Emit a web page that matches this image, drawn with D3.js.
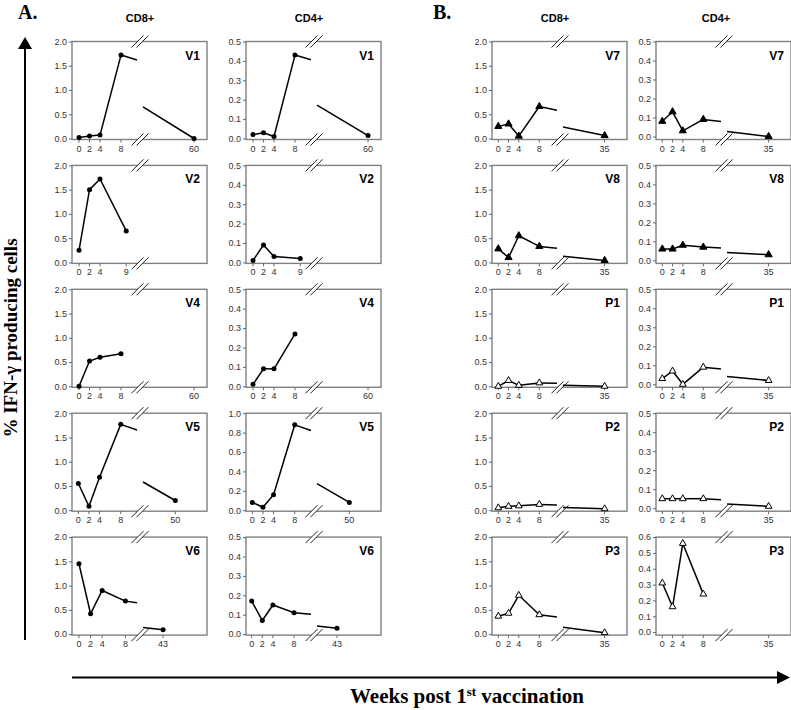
<!DOCTYPE html>
<html>
<head>
<meta charset="utf-8">
<script src="https://cdn.jsdelivr.net/npm/d3@7"></script>
<style>
body { margin: 0; background: #fff; }
text { font-family: Arial, "Liberation Sans", sans-serif; }
</style>
</head>
<body>
<svg id="fig" width="791" height="710"></svg>
<script>
// ---- data ----
const namesA = ["V1", "V2", "V4", "V5", "V6"];
const namesB = ["V7", "V8", "P1", "P2", "P3"];

// weeks sampled per donor (panel A)
const weeksA = [[0, 2, 4, 8, 60], [0, 2, 4, 9], [0, 2, 4, 8], [0, 2, 4, 8, 50], [0, 2, 4, 8, 43]];
const xTicksA = [[0, 2, 4, 8, 60], [0, 2, 4, 9], [0, 2, 4, 8, 60], [0, 2, 4, 8, 50], [0, 2, 4, 8, 43]];
const cd8A = [
  [0.02, 0.05, 0.07, 1.72, 0.0],
  [0.25, 1.50, 1.72, 0.65],
  [0.0, 0.52, 0.60, 0.67],
  [0.55, 0.08, 0.68, 1.77, 0.20],
  [1.45, 0.42, 0.90, 0.68, 0.09]
];
const cd4A = [
  [0.02, 0.03, 0.01, 0.43, 0.015],
  [0.01, 0.09, 0.03, 0.02],
  [0.01, 0.09, 0.09, 0.27],
  [0.08, 0.03, 0.16, 0.88, 0.08],
  [0.17, 0.07, 0.15, 0.11, 0.03]
];
const cd4AMax = [0.5, 0.5, 0.5, 1.0, 0.5];

// panel B
const weeksB = [[0, 2, 4, 8, 35], [0, 2, 4, 8, 35], [0, 2, 4, 8, 35], [0, 2, 4, 8, 35], [0, 2, 4, 8, 35]];
const weeksB4 = [[0, 2, 4, 8, 35], [0, 2, 4, 8, 35], [0, 2, 4, 8, 35], [0, 2, 4, 8, 35], [0, 2, 4, 8]];
const xTicksB = [0, 2, 4, 8, 35];
const cd8B = [
  [0.25, 0.30, 0.05, 0.66, 0.06],
  [0.28, 0.10, 0.55, 0.33, 0.04],
  [0.0, 0.12, 0.02, 0.07, 0.0],
  [0.05, 0.08, 0.09, 0.12, 0.03],
  [0.37, 0.43, 0.80, 0.40, 0.03]
];
const cd4B = [
  [0.08, 0.13, 0.03, 0.09, 0.0],
  [0.06, 0.06, 0.08, 0.07, 0.03],
  [0.03, 0.07, 0.0, 0.09, 0.02],
  [0.05, 0.05, 0.05, 0.05, 0.01],
  [0.31, 0.16, 0.56, 0.24]
];
const cd4BMax = [0.5, 0.5, 0.5, 0.5, 0.6];
const openB = [false, false, true, true, true];

// broken x axis: [left segment domain, right segment domain]
const xDomA8 = [[[-1.34, 11.05], [40.3, 65]], [[-1.34, 11.05], [40.3, 65]], [[-1.34, 11.05], [40.3, 65]],
                [[-1.2, 11.07], [39.8, 60]], [[-1.2, 10.0], [40.3, 48.9]]];
const xDomA4 = [[[-1.34, 11.05], [40.3, 65]], [[-1.34, 11.05], [40.3, 65]], [[-1.34, 11.05], [40.3, 65]],
                [[-1.2, 11.07], [39.8, 60]], [[-1.08, 11.2], [38, 54]]];
const xDomB = [[-1.23, 11.45], [27, 39.3]];

// ---- layout ----
const svg = d3.select("#fig");
const W = 135, H = 98;
const gapL = 65, gapR = 71;
const rowTop = [41.5, 165.4, 289.3, 413.2, 537.1];
const colLeft = [72, 246, 492, 656];

function drawPanel(x0, y0, p) {
  const g = svg.append("g").attr("transform", "translate(" + x0 + "," + y0 + ")");
  const xl = d3.scaleLinear().domain(p.dom[0]).range([0, gapL]);
  const xr = d3.scaleLinear().domain(p.dom[1]).range([gapR, W]);
  const xs = w => w <= p.dom[0][1] ? xl(w) : xr(w);
  const y = d3.scaleLinear().domain([0, p.yMax]).range([H - p.pad, 0]);

  g.append("rect").attr("width", W).attr("height", H)
    .attr("fill", "none").attr("stroke", "#808080").attr("stroke-width", 1.4);

  // y axis
  const yAxis = d3.axisLeft(y)
    .tickValues(d3.range(0, p.yMax + 1e-9, p.yStep))
    .tickFormat(d3.format(".1f")).tickSize(3).tickPadding(2);
  const ya = g.append("g").call(yAxis);
  ya.select(".domain").remove();
  ya.selectAll("line").attr("stroke", "#666");
  ya.selectAll("text").attr("font-size", 9).attr("fill", "#333").style("font-family", "Arial, Liberation Sans, sans-serif");

  // x ticks
  const xt = g.append("g");
  p.ticks.forEach(t => {
    const xx = xs(t);
    xt.append("line").attr("x1", xx).attr("x2", xx).attr("y1", H).attr("y2", H + 3).attr("stroke", "#666");
    xt.append("text").attr("x", xx).attr("y", H + 12).attr("text-anchor", "middle")
      .attr("font-size", 9).attr("fill", "#333").text(t);
  });

  // break marks
  const cx = (gapL + gapR) / 2;
  [0, H].forEach(by => {
    g.append("polygon")
      .attr("points", [[cx - 8.5, by + 6], [cx + 3.5, by - 6], [cx + 8.5, by - 6], [cx - 3.5, by + 6]].join(" "))
      .attr("fill", "#fff");
    [-2.5, 2.5].forEach(dx => {
      g.append("line").attr("x1", cx + dx - 6).attr("y1", by + 6).attr("x2", cx + dx + 6).attr("y2", by - 6)
        .attr("stroke", "#222").attr("stroke-width", 1);
    });
  });

  // line, clipped at the axis break
  const lx = p.dom[0][1], rx = p.dom[1][0];
  const segs = [];
  for (let i = 0; i < p.weeks.length - 1; i++) {
    const w1 = p.weeks[i], w2 = p.weeks[i + 1], v1 = p.vals[i], v2 = p.vals[i + 1];
    const at = w => v1 + (v2 - v1) * (w - w1) / (w2 - w1);
    if (w2 <= lx || w1 >= rx) {
      segs.push([[xs(w1), y(v1)], [xs(w2), y(v2)]]);
    } else {
      segs.push([[xs(w1), y(v1)], [xl(lx), y(at(lx))]]);
      segs.push([[xr(rx), y(at(rx))], [xs(w2), y(v2)]]);
    }
  }
  g.selectAll("line.seg").data(segs).enter().append("line").attr("class", "seg")
    .attr("x1", d => d[0][0]).attr("y1", d => d[0][1])
    .attr("x2", d => d[1][0]).attr("y2", d => d[1][1])
    .attr("stroke", "#000").attr("stroke-width", 1.5);

  // markers
  const pts = p.weeks.map((w, i) => [xs(w), y(p.vals[i])]);
  if (p.shape === "circle") {
    g.selectAll("circle.pt").data(pts).enter().append("circle").attr("class", "pt")
      .attr("cx", d => d[0]).attr("cy", d => d[1]).attr("r", 2.5).attr("fill", "#000");
  } else {
    const sym = d3.symbol().type(d3.symbolTriangle).size(p.open ? 20 : 22);
    g.selectAll("path.pt").data(pts).enter().append("path").attr("class", "pt")
      .attr("d", sym).attr("transform", d => "translate(" + d[0] + "," + d[1] + ")")
      .attr("fill", p.open ? "#fff" : "#000").attr("stroke", "#000").attr("stroke-width", 1);
  }

  g.append("text").attr("x", W - 7).attr("y", 18).attr("text-anchor", "end")
    .attr("font-size", 12).attr("font-weight", "bold").text(p.name);
}

namesA.forEach((n, i) => {
  drawPanel(colLeft[0], rowTop[i], {name: n, weeks: weeksA[i], vals: cd8A[i], ticks: xTicksA[i],
    dom: xDomA8[i], yMax: 2.0, yStep: 0.5, pad: 1, shape: "circle"});
  drawPanel(colLeft[1], rowTop[i], {name: n, weeks: weeksA[i], vals: cd4A[i], ticks: xTicksA[i],
    dom: xDomA4[i], yMax: cd4AMax[i], yStep: cd4AMax[i] > 0.6 ? 0.2 : 0.1, pad: 1, shape: "circle"});
});
namesB.forEach((n, i) => {
  drawPanel(colLeft[2], rowTop[i], {name: n, weeks: weeksB[i], vals: cd8B[i], ticks: xTicksB,
    dom: xDomB, yMax: 2.0, yStep: 0.5, pad: 1, shape: "tri", open: openB[i]});
  drawPanel(colLeft[3], rowTop[i], {name: n, weeks: weeksB4[i], vals: cd4B[i], ticks: xTicksB,
    dom: xDomB, yMax: cd4BMax[i], yStep: 0.1, pad: 3, shape: "tri", open: openB[i]});
});

// column headers and panel letters
const heads = [["CD8+", 140], ["CD4+", 309], ["CD8+", 555], ["CD4+", 716]];
heads.forEach(h => svg.append("text").attr("x", h[1]).attr("y", 21.5).attr("text-anchor", "middle")
  .attr("font-size", 11).attr("font-weight", "bold").text(h[0]));

const serif = "'Liberation Serif', 'Times New Roman', serif";
[["A.", 18], ["B.", 433]].forEach(l => svg.append("text").attr("x", l[1]).attr("y", 18.5)
  .attr("font-size", 20).attr("font-weight", "bold").style("font-family", serif).text(l[0]));

// axis arrows
svg.append("line").attr("x1", 25).attr("y1", 640).attr("x2", 25).attr("y2", 47).attr("stroke", "#000").attr("stroke-width", 2);
svg.append("polygon").attr("points", "25,37 18,49 32,49").attr("fill", "#000");
svg.append("line").attr("x1", 72).attr("y1", 677.5).attr("x2", 779).attr("y2", 677.5).attr("stroke", "#000").attr("stroke-width", 2);
svg.append("polygon").attr("points", "790,677.5 777,671 777,684").attr("fill", "#000");

svg.append("text").attr("transform", "translate(17,338) rotate(-90)").attr("text-anchor", "middle")
  .attr("font-size", 19).attr("font-weight", "bold").style("font-family", serif).text("% IFN-γ producing cells");

const xl = svg.append("text").attr("x", 467).attr("y", 703).attr("text-anchor", "middle")
  .attr("font-size", 21).attr("font-weight", "bold").style("font-family", serif);
xl.append("tspan").text("Weeks post 1");
xl.append("tspan").attr("dy", -7).attr("font-size", 13).text("st");
xl.append("tspan").attr("dy", 7).text(" vaccination");
</script>
</body>
</html>
